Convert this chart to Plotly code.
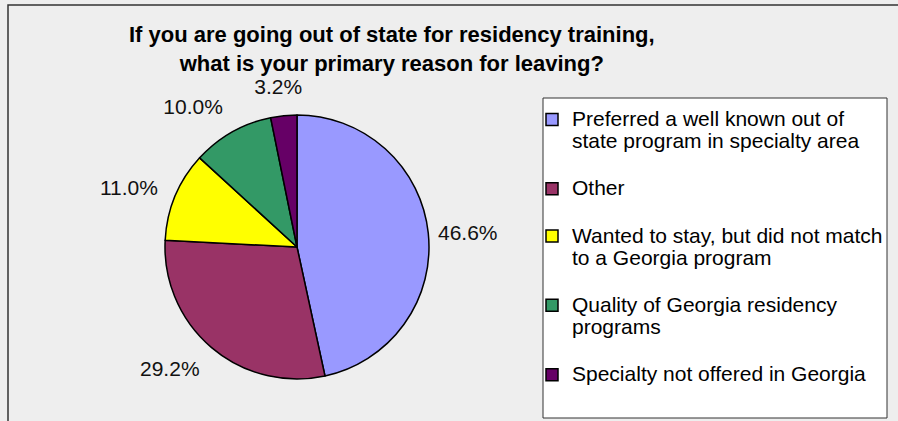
import plotly.graph_objects as go

# ---- data ----
categories = [
    "Preferred a well known out of<br>state program in specialty area",
    "Other",
    "Wanted to stay, but did not match<br>to a Georgia program",
    "Quality of Georgia residency<br>programs",
    "Specialty not offered in Georgia",
]
values = [46.6, 29.2, 11.0, 10.0, 3.2]
colors = ["#9999FF", "#993366", "#FFFF00", "#339966", "#660066"]
title_text = "If you are going out of state for residency training,<br>what is your primary reason for leaving?"

W, H = 898, 421
FONT = "Liberation Sans, Arial, sans-serif"

# pie geometry (pixels)
cx, cy, r = 297, 247, 132
# label rings: (radius, x-shift, slice indices whose label sits on that ring)
label_rings = [(136, 0, [0]), (151, 6, [1, 2, 3]), (150, 26, [4])]


def dom(rad, dx=0):
    return dict(x=[(cx + dx - rad) / W, (cx + dx + rad) / W],
                y=[1 - (cy + rad) / H, 1 - (cy - rad) / H])


fig = go.Figure()

# transparent label carriers so the percentage labels sit further out
for rad, dx, idx in label_rings:
    fig.add_trace(go.Pie(
        labels=categories, values=values, sort=False, direction="clockwise",
        rotation=0, domain=dom(rad, dx),
        marker=dict(colors=["rgba(0,0,0,0)"] * len(values), line=dict(width=0)),
        textposition="outside",
        texttemplate=["%{value:.1f}%" if i in idx else "" for i in range(len(values))],
        textfont=dict(family=FONT, size=21, color="#111111"),
        showlegend=False, hoverinfo="skip",
    ))

# legend entries: larger glyphs on a tighter line pitch, blank line between entries
legend_labels = []
for i, c in enumerate(categories):
    t = '<span style="font-size:21px">' + c.replace("<br>", '</span><br><span style="font-size:21px">') + "</span>"
    if i < len(categories) - 1:
        t += "<br>\u00a0"
    legend_labels.append(t)

# visible pie
fig.add_trace(go.Pie(
    labels=legend_labels, values=values, sort=False, direction="clockwise",
    rotation=0, domain=dom(r),
    marker=dict(colors=colors, line=dict(color="#000000", width=1.5)),
    textinfo="none", showlegend=True,
))

fig.update_layout(
    width=W, height=H,
    margin=dict(l=0, r=0, t=0, b=0),
    paper_bgcolor="#EEEEEE",
    font=dict(family=FONT, size=21, color="#000000"),
    annotations=[dict(
        text="<b>" + title_text + "</b>", x=392 / W, xanchor="center",
        y=1 - 20 / H, yanchor="top", xref="paper", yref="paper",
        showarrow=False, align="center",
        font=dict(family=FONT, size=22, color="#000000"))],
    legend=dict(x=532 / W, xanchor="left", y=1 - 102 / H, yanchor="top",
                bgcolor="rgba(0,0,0,0)", borderwidth=0, valign="top",
                font=dict(family=FONT, size=17, color="#000000"),
                traceorder="normal"),
    shapes=[
        # outer chart frame (continues beyond the visible canvas)
        dict(type="rect", xref="paper", yref="paper",
             x0=8 / W, x1=1.2, y0=-0.2, y1=1 - 5 / H,
             line=dict(color="#333333", width=1.5), fillcolor="rgba(0,0,0,0)",
             layer="below"),
        # legend box
        dict(type="rect", xref="paper", yref="paper",
             x0=543 / W, x1=887 / W, y0=1 - 418 / H, y1=1 - 98 / H,
             line=dict(color="#333333", width=1), fillcolor="#FFFFFF",
             layer="below"),
    ],
)

fig.write_html("out.html", config={"displayModeBar": False},
               post_script="document.body.style.margin='0';")
